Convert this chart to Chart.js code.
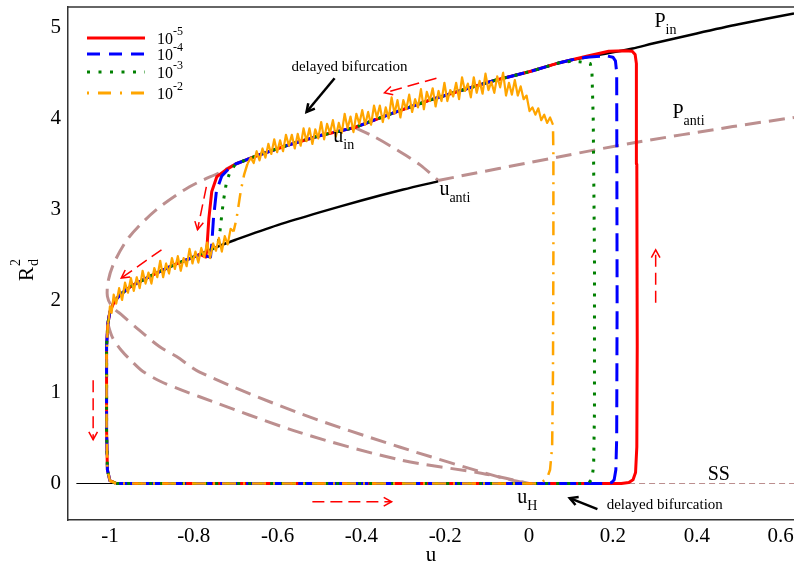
<!DOCTYPE html>
<html>
<head>
<meta charset="utf-8">
<script src="https://cdn.jsdelivr.net/npm/chart.js@4.4.1/dist/chart.umd.min.js"></script>
<style>
  html, body { margin: 0; padding: 0; background: #fff; overflow: hidden; }
  canvas { display: block; }
</style>
</head>
<body>
<canvas id="chart" width="794" height="563"></canvas>
<script>
// ---- axis ticks ----
const X_TICKS = [-1, -0.8, -0.6, -0.4, -0.2, 0, 0.2, 0.4, 0.6];
const X_TICK_LABELS = ["-1", "-0.8", "-0.6", "-0.4", "-0.2", "0", "0.2", "0.4", "0.6"];
const Y_TICKS = [0, 1, 2, 3, 4, 5];
const Y_TICK_LABELS = ["0", "1", "2", "3", "4", "5"];
const NOISE_EXPONENTS = ["-5", "-4", "-3", "-2"];

// ---- bifurcation branches, [u, R_d^2] ----
const SS_STABLE = [[-1.08, 0], [0, 0]];
const SS_UNSTABLE = [[0, 0], [0.632, 0]];
const P_IN_STABLE = [[-0.416, 3.90], [-0.33, 4.05], [-0.23, 4.21], [-0.087, 4.41], [0.0, 4.51], [0.073, 4.61],
  [0.137, 4.67], [0.247, 4.765], [0.295, 4.82], [0.4, 4.93], [0.5, 5.03], [0.632, 5.15]];
const P_IN_UNSTABLE = [[-0.416, 3.90], [-0.5, 3.81], [-0.58, 3.70], [-0.65, 3.59], [-0.70, 3.50], [-0.732, 3.42],
  [-0.81, 3.25], [-0.889, 3.00], [-0.954, 2.70], [-0.99, 2.42], [-1.004, 2.22], [-1.006, 2.05], [-0.995, 1.94],
  [-0.97, 1.84], [-0.93, 1.68], [-0.882, 1.50], [-0.841, 1.39], [-0.786, 1.22], [-0.548, 0.77], [-0.309, 0.40],
  [-0.071, 0.07], [0, 0]];
const P_ANTI_STABLE = [[-1.005, 1.75], [-1.0, 1.88], [-0.99, 1.99], [-0.975, 2.07], [-0.95, 2.16], [-0.9, 2.28],
  [-0.85, 2.39], [-0.78, 2.52], [-0.74, 2.60], [-0.7, 2.67], [-0.6, 2.83], [-0.5, 2.97], [-0.4, 3.10],
  [-0.3, 3.22], [-0.217, 3.31]];
const P_ANTI_LOWER = [[-1.005, 1.75], [-0.994, 1.60], [-0.973, 1.46], [-0.946, 1.33], [-0.922, 1.23],
  [-0.88, 1.12], [-0.827, 1.02], [-0.786, 0.95], [-0.548, 0.56], [-0.309, 0.26], [-0.111, 0.11], [0, 0]];
const U_IN_TO_U_ANTI = [[-0.416, 3.90], [-0.37, 3.80], [-0.31, 3.64], [-0.26, 3.49], [-0.217, 3.32]];
const P_ANTI_UNSTABLE = [[-0.217, 3.32], [0.073, 3.58], [0.247, 3.73], [0.486, 3.91], [0.632, 4.01]];

// ---- noisy sweeps, shared pieces ----
const UPPER_TRACK = [[0.073, 4.61], [0.0, 4.51], [-0.087, 4.41], [-0.23, 4.21], [-0.33, 4.05], [-0.416, 3.90],
  [-0.5, 3.81], [-0.58, 3.70], [-0.65, 3.59], [-0.70, 3.50]];
const LOWER_TRACK = [[-0.785, 2.51], [-0.85, 2.39], [-0.9, 2.28], [-0.95, 2.16], [-0.975, 2.07], [-0.99, 1.99],
  [-1.0, 1.88], [-1.005, 1.75], [-1.008, 1.5], [-1.008, 0.6], [-1.006, 0.15], [-1.0, 0.03], [-0.985, 0]];

const RED_JUMP = [[-0.985, 0], [0.22, 0], [0.238, 0.01], [0.248, 0.04], [0.254, 0.12], [0.257, 0.4], [0.258, 1.5],
  [0.257, 3.5], [0.256, 4.6], [0.253, 4.70], [0.246, 4.735], [0.23, 4.74], [0.19, 4.735], [0.137, 4.68], [0.1, 4.64]];
const RED_FOLD = [[-0.725, 3.43], [-0.745, 3.36], [-0.757, 3.2], [-0.764, 2.9], [-0.768, 2.62], [-0.771, 2.48]];

const BLUE_JUMP = [[-0.985, 0], [0.185, 0], [0.197, 0.01], [0.203, 0.04], [0.207, 0.15], [0.209, 0.5], [0.21, 2.0],
  [0.209, 4.5], [0.206, 4.63], [0.2, 4.67], [0.185, 4.685], [0.137, 4.67], [0.1, 4.64]];
const BLUE_FOLD = [[-0.718, 3.44], [-0.733, 3.37], [-0.746, 3.2], [-0.753, 2.9], [-0.757, 2.62], [-0.760, 2.48]];

const GREEN_JUMP = [[-0.985, 0], [0.13, 0], [0.143, 0.01], [0.15, 0.05], [0.154, 0.2], [0.156, 0.8], [0.156, 2.5],
  [0.153, 4.0], [0.15, 4.5], [0.146, 4.60], [0.12, 4.62], [0.1, 4.625]];
const GREEN_FOLD = [[-0.713, 3.42], [-0.722, 3.30], [-0.729, 3.10], [-0.733, 2.95], [-0.737, 2.78], [-0.742, 2.63],
  [-0.755, 2.57]];

const ORANGE_SMOOTH = [[-1.005, 1.75], [-1.008, 1.4], [-1.008, 0.6], [-1.006, 0.15], [-1.0, 0.03], [-0.985, 0],
  [0.015, 0], [0.032, 0.02], [0.043, 0.06], [0.05, 0.15], [0.055, 0.4], [0.057, 1.2], [0.058, 2.5], [0.058, 3.6],
  [0.057, 3.93]];
const ORANGE_DROP = [[-0.672, 3.50], [-0.680, 3.38], [-0.688, 3.20], [-0.693, 3.05], [-0.698, 2.90], [-0.705, 2.76]];
const ORANGE_NOISE_UPPER = [
  [0.057, 3.93], [0.050, 4.01], [0.043, 3.95], [0.036, 4.04], [0.029, 3.98], [0.022, 4.11], [0.015, 4.04],
  [0.008, 4.12], [0.001, 4.08], [-0.006, 4.25], [-0.013, 4.21], [-0.020, 4.35], [-0.027, 4.25], [-0.034, 4.42],
  [-0.041, 4.26], [-0.048, 4.39], [-0.055, 4.25], [-0.062, 4.50], [-0.069, 4.34], [-0.076, 4.46], [-0.083, 4.28],
  [-0.090, 4.40], [-0.097, 4.31], [-0.104, 4.49], [-0.111, 4.27], [-0.118, 4.41], [-0.125, 4.28], [-0.132, 4.45],
  [-0.139, 4.23], [-0.146, 4.38], [-0.153, 4.30], [-0.160, 4.45], [-0.167, 4.21], [-0.174, 4.39], [-0.181, 4.24],
  [-0.188, 4.31], [-0.195, 4.19], [-0.202, 4.39], [-0.209, 4.19], [-0.216, 4.30], [-0.223, 4.13], [-0.230, 4.33],
  [-0.237, 4.19], [-0.244, 4.29], [-0.251, 4.10], [-0.258, 4.32], [-0.265, 4.12], [-0.272, 4.21], [-0.279, 4.07],
  [-0.286, 4.26], [-0.293, 4.10], [-0.300, 4.20], [-0.307, 4.01], [-0.314, 4.20], [-0.321, 4.05], [-0.328, 4.23],
  [-0.335, 4.00], [-0.342, 4.12], [-0.349, 3.96], [-0.356, 4.14], [-0.363, 4.01], [-0.370, 4.14], [-0.377, 3.93],
  [-0.384, 4.07], [-0.391, 3.93], [-0.398, 4.09], [-0.405, 3.94], [-0.412, 4.05], [-0.419, 3.85], [-0.426, 4.02],
  [-0.433, 3.89], [-0.440, 4.05], [-0.447, 3.84], [-0.454, 3.95], [-0.461, 3.80], [-0.468, 3.98], [-0.475, 3.84],
  [-0.482, 3.94], [-0.489, 3.77], [-0.496, 3.96], [-0.503, 3.78], [-0.510, 3.88], [-0.517, 3.72], [-0.524, 3.89],
  [-0.531, 3.75], [-0.538, 3.89], [-0.545, 3.70], [-0.552, 3.83], [-0.559, 3.67], [-0.566, 3.82], [-0.573, 3.70],
  [-0.580, 3.82], [-0.587, 3.64], [-0.594, 3.76], [-0.601, 3.63], [-0.608, 3.77], [-0.615, 3.61], [-0.622, 3.72],
  [-0.629, 3.57], [-0.636, 3.67], [-0.643, 3.54], [-0.650, 3.64], [-0.657, 3.51], [-0.664, 3.57], [-0.672, 3.50]];
const ORANGE_NOISE_LOWER = [
  [-0.705, 2.76], [-0.712, 2.79], [-0.719, 2.62], [-0.726, 2.71], [-0.733, 2.54], [-0.740, 2.69], [-0.747, 2.55],
  [-0.754, 2.63], [-0.761, 2.47], [-0.768, 2.64], [-0.775, 2.48], [-0.782, 2.58], [-0.789, 2.42], [-0.796, 2.54],
  [-0.803, 2.41], [-0.810, 2.57], [-0.817, 2.38], [-0.824, 2.47], [-0.831, 2.33], [-0.838, 2.49], [-0.845, 2.35],
  [-0.852, 2.47], [-0.859, 2.30], [-0.866, 2.41], [-0.873, 2.26], [-0.880, 2.44], [-0.887, 2.26], [-0.894, 2.36],
  [-0.901, 2.19], [-0.908, 2.31], [-0.915, 2.19], [-0.922, 2.33], [-0.929, 2.14], [-0.936, 2.26], [-0.943, 2.11],
  [-0.950, 2.25], [-0.957, 2.09], [-0.964, 2.20], [-0.971, 2.01], [-0.978, 2.14], [-0.985, 1.97], [-0.991, 2.07],
  [-0.996, 1.87], [-1.000, 1.94], [-1.003, 1.79], [-1.005, 1.75]];

// ---- annotations (data coordinates) ----
const BRANCH_LABELS = [
  { main: "P", sub: "in", u: 0.299, r: 5.0 },
  { main: "P", sub: "anti", u: 0.342, r: 4.0 },
  { main: "u", sub: "in", u: -0.467, r: 3.74 },
  { main: "u", sub: "anti", u: -0.214, r: 3.16 },
  { main: "u", sub: "H", u: -0.028, r: -0.21 },
  { main: "SS", sub: "", u: 0.426, r: 0.04 },
];
const NOTES = [
  { text: "delayed bifurcation", u: -0.567, r: 4.52 },
  { text: "delayed bifurcation", u: 0.185, r: -0.28 },
];
const FLOW_ARROWS = [
  [[-0.221, 4.44], [-0.345, 4.28]],
  [[-0.877, 2.56], [-0.973, 2.25]],
  [[-0.770, 3.25], [-0.791, 2.78]],
  [[-1.04, 1.13], [-1.04, 0.48]],
  [[-0.517, -0.20], [-0.328, -0.20]],
  [[0.302, 1.98], [0.302, 2.56]],
];
const NOTE_ARROWS = [
  [[-0.464, 4.44], [-0.531, 4.07]],
  [[0.163, -0.28], [0.097, -0.16]],
];

const pts = (a) => a.map(([x, y]) => ({ x, y }));
const SERIF = '"Liberation Serif", "Times New Roman", serif';

function line(data, color, width, dash, order, extra) {
  return Object.assign({
    data: pts(data), borderColor: color, backgroundColor: color, borderWidth: width,
    borderDash: dash, pointRadius: 0, tension: 0, fill: false, order, borderJoinStyle: "round",
  }, extra || {});
}

const RED = "#ff0000", BLUE = "#0000ff", GREEN = "#008000", ORANGE = "#ffa500", BROWN = "#bc8f8f";
const datasets = [
  line([...RED_JUMP, ...UPPER_TRACK, ...RED_FOLD, ...LOWER_TRACK], RED, 3, [], 4),
  line([...BLUE_JUMP, ...UPPER_TRACK, ...BLUE_FOLD, ...LOWER_TRACK], BLUE, 3, [18, 8], 3),
  line([...GREEN_JUMP, ...UPPER_TRACK, ...GREEN_FOLD, ...LOWER_TRACK], GREEN, 3, [3, 8], 2),
  line(ORANGE_SMOOTH, ORANGE, 2.5, [14, 7, 2, 7], 1),
  line(ORANGE_DROP, ORANGE, 2.5, [14, 7, 2, 7], 1),
  line(ORANGE_NOISE_UPPER, ORANGE, 2.2, [], 0),
  line(ORANGE_NOISE_LOWER, ORANGE, 2.2, [], 0),
  line(P_IN_STABLE, "#000", 2.5, [], 5, { tension: 0.3 }),
  line(P_ANTI_STABLE, "#000", 2.5, [], 5, { tension: 0.3 }),
  line(P_IN_UNSTABLE, BROWN, 3, [16, 8], 6, { tension: 0.3 }),
  line(P_ANTI_LOWER, BROWN, 3, [16, 8], 6, { tension: 0.3 }),
  line(U_IN_TO_U_ANTI, BROWN, 3, [16, 8], 6, { tension: 0.3 }),
  line(P_ANTI_UNSTABLE, BROWN, 3, [16, 8], 6, { tension: 0.3 }),
  line(SS_STABLE, "#000", 1.2, [], 7),
  line(SS_UNSTABLE, BROWN, 1.2, [6, 4], 7),
];

function arrow(ctx, x1, y1, x2, y2, head, dash) {
  ctx.setLineDash(dash);
  ctx.beginPath(); ctx.moveTo(x1, y1); ctx.lineTo(x2, y2); ctx.stroke();
  ctx.setLineDash([]);
  const a = Math.atan2(y2 - y1, x2 - x1);
  ctx.beginPath();
  ctx.moveTo(x2 - head * Math.cos(a - 0.5), y2 - head * Math.sin(a - 0.5));
  ctx.lineTo(x2, y2);
  ctx.lineTo(x2 - head * Math.cos(a + 0.5), y2 - head * Math.sin(a + 0.5));
  ctx.stroke();
}

const annotate = {
  id: "annotate",
  afterDatasetsDraw(chart) {
    const { ctx, chartArea, scales: { x, y } } = chart;
    const px = (u) => x.getPixelForValue(u), py = (r) => y.getPixelForValue(r);
    ctx.save();
    ctx.strokeStyle = "#333"; ctx.lineWidth = 1.5;
    ctx.beginPath(); ctx.moveTo(chartArea.left, chartArea.top); ctx.lineTo(chartArea.right, chartArea.top); ctx.stroke();

    ctx.strokeStyle = RED; ctx.lineWidth = 1.5;
    for (const [a, b] of FLOW_ARROWS) arrow(ctx, px(a[0]), py(a[1]), px(b[0]), py(b[1]), 9, [12, 6]);
    ctx.strokeStyle = "#000"; ctx.lineWidth = 2.5;
    for (const [a, b] of NOTE_ARROWS) arrow(ctx, px(a[0]), py(a[1]), px(b[0]), py(b[1]), 9, []);

    ctx.fillStyle = "#000"; ctx.textAlign = "left"; ctx.textBaseline = "alphabetic";
    for (const l of BRANCH_LABELS) {
      const x0 = px(l.u), y0 = py(l.r);
      ctx.font = "20px " + SERIF;
      ctx.fillText(l.main, x0, y0);
      if (l.sub) {
        const w = ctx.measureText(l.main).width;
        ctx.font = "14px " + SERIF;
        ctx.fillText(l.sub, x0 + w, y0 + 7);
      }
    }
    ctx.font = "15px " + SERIF;
    for (const n of NOTES) ctx.fillText(n.text, px(n.u), py(n.r));
    ctx.restore();
  },
  afterDraw(chart) {
    const { ctx } = chart;
    ctx.save();
    // legend
    const rows = [38, 54, 72, 93];
    const dashes = [[], [13, 9], [3, 8.5], [2, 9, 13, 9]];
    for (let i = 0; i < 4; i++) {
      const ds = chart.data.datasets[i];
      ctx.strokeStyle = ds.borderColor; ctx.lineWidth = 3; ctx.setLineDash(dashes[i]);
      ctx.beginPath(); ctx.moveTo(87, rows[i]); ctx.lineTo(145, rows[i]); ctx.stroke();
      ctx.setLineDash([]);
      ctx.fillStyle = "#000"; ctx.textAlign = "left"; ctx.textBaseline = "alphabetic";
      ctx.font = "16px " + SERIF;
      ctx.fillText("10", 157, rows[i] + 6);
      const w = ctx.measureText("10").width;
      ctx.font = "12px " + SERIF;
      ctx.fillText(NOISE_EXPONENTS[i], 157 + w, rows[i] - 3);
    }
    // y axis title R_d^2
    ctx.translate(33, 281); ctx.rotate(-Math.PI / 2);
    ctx.fillStyle = "#000"; ctx.textAlign = "left"; ctx.textBaseline = "alphabetic";
    ctx.font = "21px " + SERIF;
    ctx.fillText("R", 0, 0);
    const wr = ctx.measureText("R").width;
    ctx.font = "14px " + SERIF;
    ctx.fillText("d", wr + 1, 5);
    ctx.fillText("2", wr + 1, -13);
    ctx.restore();
  },
};

Chart.defaults.font.family = SERIF;
new Chart(document.getElementById("chart"), {
  type: "line",
  data: { datasets },
  options: {
    responsive: false, animation: false, devicePixelRatio: 1,
    layout: { padding: { top: 7, left: 0, right: 0, bottom: 0 } },
    plugins: { legend: { display: false }, tooltip: { enabled: false } },
    scales: {
      x: {
        type: "linear", min: -1.1, max: 0.632,
        afterBuildTicks: (s) => { s.ticks = X_TICKS.map((v) => ({ value: v })); },
        afterFit: (s) => { s.height = 43; s.paddingLeft = 0; s.paddingRight = 0; },
        ticks: { callback: (v, i) => X_TICK_LABELS[i], font: { size: 21 }, color: "#000", padding: 4, maxRotation: 0, autoSkip: false },
        grid: { display: false, drawTicks: false },
        border: { display: true, color: "#333", width: 1.5 },
        title: { display: true, text: "u", font: { size: 21 }, color: "#000", padding: { top: 0, bottom: -5 } },
      },
      y: {
        type: "linear", min: -0.4, max: 5.22,
        afterBuildTicks: (s) => { s.ticks = Y_TICKS.map((v) => ({ value: v })); },
        afterFit: (s) => { s.width = 68; s.paddingTop = 0; s.paddingBottom = 0; },
        ticks: { callback: (v, i) => Y_TICK_LABELS[i], font: { size: 21 }, color: "#000", padding: 7, autoSkip: false },
        grid: { display: false, drawTicks: false },
        border: { display: true, color: "#333", width: 1.5 },
      },
    },
  },
  plugins: [annotate],
});
</script>
</body>
</html>
